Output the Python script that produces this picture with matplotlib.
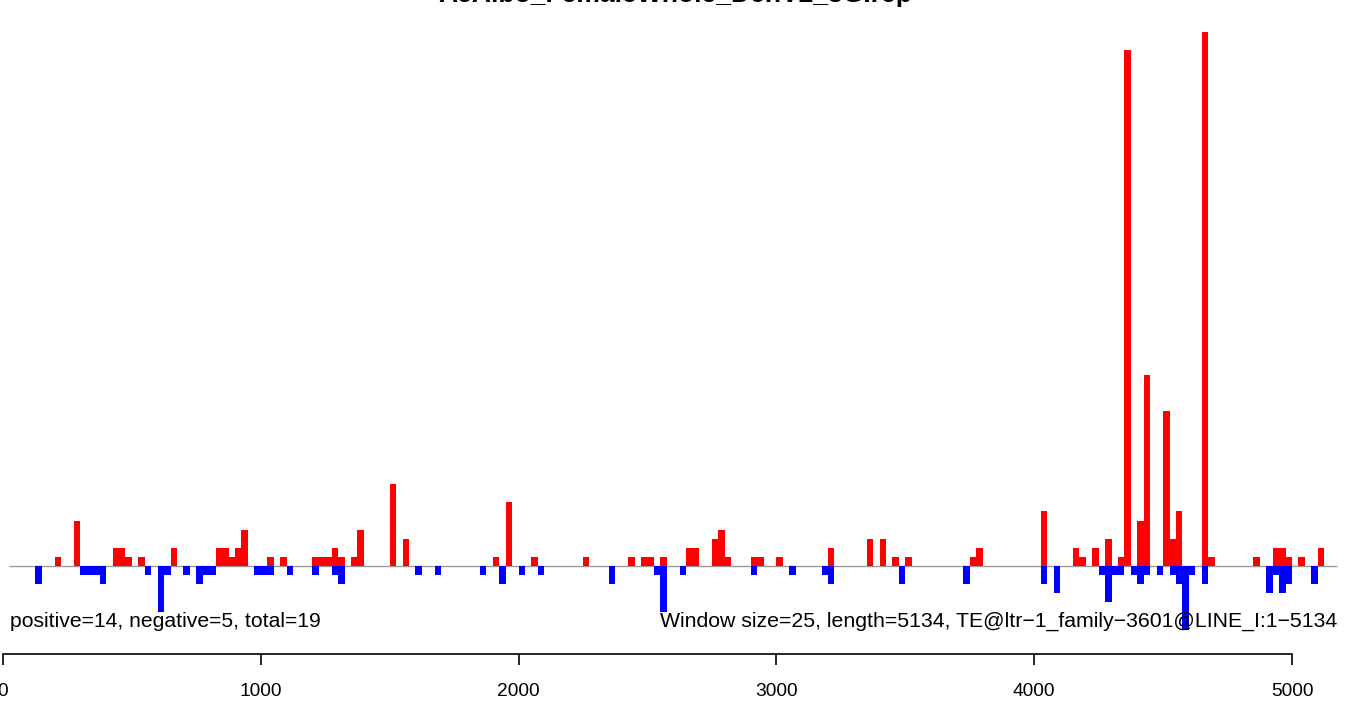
import matplotlib
matplotlib.use("Agg")
import matplotlib.pyplot as plt

# ---------------- data ----------------
TITLE = "AeAlbo_FemaleWhole_DenV2_3G.rep"
WINDOW = 25
LENGTH = 5134
LEFT_NOTE = "positive=14, negative=5, total=19"
RIGHT_NOTE = "Window size=25, length=5134, TE@ltr\u22121_family\u22123601@LINE_I:1\u22125134"

pos_bins = [8, 11, 17, 18, 19, 21, 26, 33, 34, 35, 36, 37, 41, 43, 48, 49, 50, 51, 52,
            54, 55, 60, 62, 76, 78, 82, 90, 97, 99, 100, 102, 106, 107, 110, 111, 112,
            116, 117, 120, 128, 134, 136, 138, 140, 150, 151, 161, 166, 167, 169, 171,
            173, 174, 176, 177, 180, 181, 182, 186, 187, 194, 197, 198, 199, 201, 204]
pos_vals = [1, 5, 2, 2, 1, 1, 2, 2, 2, 1, 2, 4, 1, 1, 1, 1, 1, 2, 1,
            1, 4, 9, 3, 1, 7, 1, 1, 1, 1, 1, 1, 2, 2, 3, 4, 1,
            1, 1, 1, 2, 3, 3, 1, 1, 1, 2, 6, 2, 1, 2, 3,
            1, 56.7, 5, 21, 17, 3, 6, 58.7, 1, 1, 2, 2, 1, 1, 2]

neg_bins = [5, 12, 13, 14, 15, 22, 24, 25, 28, 30, 31, 32, 39, 40, 41, 44, 48, 51, 52,
            64, 67, 74, 77, 80, 83, 94, 101, 102, 105, 116, 122, 127, 128, 139, 149,
            161, 163, 170, 171, 172, 173, 175, 176, 177, 179, 181, 182, 183, 184, 186,
            196, 197, 198, 199, 203]
neg_vals = [2, 1, 1, 1, 2, 1, 5, 1, 1, 2, 1, 1, 1, 1, 1, 1, 1, 1, 2,
            1, 1, 1, 2, 1, 1, 2, 1, 5, 1, 1, 1, 1, 2, 2, 2,
            2, 3, 1, 4, 1, 1, 1, 2, 1, 1, 1, 2, 7, 1, 2,
            3, 1, 3, 2, 2]

xticks = [0, 1000, 2000, 3000, 4000, 5000]

# ---------------- layout ----------------
W, H = 1356, 704
fig = plt.figure(figsize=(W / 100, H / 100), dpi=100)
ax = fig.add_axes([0, 0, 1, 1])

px_per_bp = 1289 / 5000.0
x0_px = 3.0
base_px = 566.0
px_per_unit = 9.1

ax.set_xlim(-x0_px / px_per_bp, (W - x0_px) / px_per_bp)
ax.set_ylim((base_px - H) / px_per_unit, base_px / px_per_unit)

plt.rcParams['font.family'] = ['Liberation Sans', 'DejaVu Sans']

# baseline
ax.hlines(0, 23, 5174, color="#9a9a9a", lw=1.0, zorder=1)

pos_x = [b * WINDOW for b in pos_bins]
neg_x = [b * WINDOW for b in neg_bins]
ax.bar(pos_x, pos_vals, width=WINDOW, align="edge", color="#ff0000",
       edgecolor="none", linewidth=0, zorder=2)
ax.bar(neg_x, [-v for v in neg_vals], width=WINDOW, align="edge", color="#0000ff",
       edgecolor="none", linewidth=0, zorder=2)

# x axis (R style)
for s in ["top", "right", "left"]:
    ax.spines[s].set_visible(False)
ax.spines["bottom"].set_position(("data", (base_px - 654) / px_per_unit))
ax.spines["bottom"].set_bounds(0, 5000)
ax.spines["bottom"].set_linewidth(1.2)
ax.set_yticks([])
ax.set_xticks(xticks)
ax.set_xticklabels([str(t) for t in xticks])
ax.tick_params(axis="x", direction="out", length=11 * 0.72, width=1.2, pad=13)

fig.canvas.draw()
renderer = fig.canvas.get_renderer()


def fit(txt, target_w):
    bb = txt.get_window_extent(renderer)
    txt.set_fontsize(txt.get_fontsize() * target_w / bb.width)


for lab in ax.get_xticklabels():
    lab.set_fontsize(13.6)
    lab.set_family(['Liberation Sans', 'DejaVu Sans'])
fig.canvas.draw()
ref = ax.get_xticklabels()[1]
bb = ref.get_window_extent(renderer)
scale = 42.5 / bb.width
for lab in ax.get_xticklabels():
    lab.set_fontsize(13.6 * scale)


def fx(px):
    return px / W


def fy(py):
    return 1 - py / H


t_left = fig.text(fx(10), fy(627), LEFT_NOTE, ha="left", va="baseline", fontsize=15)
fit(t_left, 312)
t_right = fig.text(fx(1337), fy(627), RIGHT_NOTE, ha="right", va="baseline", fontsize=15)
fit(t_right, 679)
t_title = fig.text(fx(675), fy(2), TITLE, ha="center", va="baseline", fontsize=16,
                   fontweight="bold")
fit(t_title, 474)

fig.savefig("out.png", dpi=100)
